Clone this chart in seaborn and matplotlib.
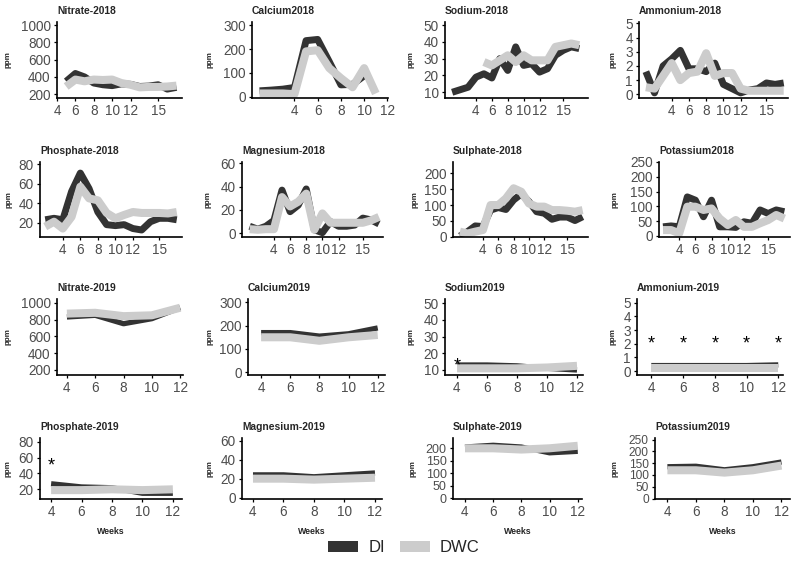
import numpy as np
import pandas as pd
import matplotlib
matplotlib.use("Agg")
import matplotlib.pyplot as plt
import seaborn as sns
from matplotlib.patches import Patch

nan = np.nan

# ---------------- data ----------------
weeks_2018 = list(range(1, 18))
weeks_2019 = [4, 6, 8, 10, 12]
groups = ["DI", "DWC"]

nitrate18_di  = [nan, nan, nan, nan, 350, 440, 400, 330, 310, 300, 320, 315, 290, 295, 310, 260, 280]
nitrate18_dwc = [nan, nan, nan, nan, 290, 370, 350, 370, 365, 370, 330, 310, 280, 285, 285, 290, 300]

calcium18_di  = [25, 28, 32, 39, 235, 240, 147, 50, 52, 88, nan, nan, nan, nan, nan, nan, nan]
calcium18_dwc = [14, 14, 14, 11, 190, 195, 120, 78, 40, 120, 14, nan, nan, nan, nan, nan, nan]

sodium18_di   = [10, 11.5, 13, 19, 21, 18.5, 30, 23, 37, 26, 27, 22, 24, 32, 35, 37, 36]
sodium18_dwc  = [nan, nan, nan, nan, 28, 26, 29, 32, 28, 32, 29, 29, 29, 37, 38, 39, 38]

ammonium18_di  = [1.6, 0.1, 2.0, 2.5, 3.1, 1.8, 1.8, 1.6, 2.2, 0.7, 0.4, 0.1, 0.3, 0.4, 0.8, 0.7, 0.8]
ammonium18_dwc = [0.5, 0.4, 1.3, 2.2, 1.0, 1.5, 1.6, 2.9, 1.3, 1.5, 1.5, 0.4, 0.25, 0.25, 0.25, 0.25, 0.25]

phosphate18_di  = [nan, 23, 24.5, 23, 52, 71, 55, 31, 18, 17, 18, 14, 12.5, 21, 24.5, 24.5, 23]
phosphate18_dwc = [nan, 16, 21, 14, 26, 57, 45, 43, 30, 24.5, 28, 31, 30, 30, 30, 29.5, 31]

magnesium18_di  = [6, 3.5, 6, 11, 37, 18.5, 24, 38, 3, 0.5, 10, 6, 6, 7, 13, 11.5, 8]
magnesium18_dwc = [3.5, 3, 3.5, 3.5, 31, 23, 27, 34, 3, 17, 9, 9, 9, 9, 9, 11, 14]

sulphate18_di  = [2, 16, 34, 32, 84, 92, 86, 116, 135, 111, 79, 74, 55, 62, 62, 51, 63]
sulphate18_dwc = [16, 10, 16, 21, 100, 100, 121, 153, 142, 105, 95, 95, 84, 84, 82, 79, 84]

potassium18_di  = [nan, 31, 34, 31, 132, 121, 65, 121, 31, 31, 29, 48, 43, 88, 76, 88, 82]
potassium18_dwc = [nan, 20, 20, 9, 99, 99, 88, 93, 59, 37, 54, 31, 31, 43, 54, 71, 59]

nitrate19_di    = [830, 850, 750, 810, 940]
nitrate19_dwc   = [870, 880, 840, 850, 940]
calcium19_di    = [170, 170, 155, 165, 190]
calcium19_dwc   = [150, 150, 135, 150, 160]
sodium19_di     = [13, 13, 12.5, 11, 10]
sodium19_dwc    = [11, 11, 11, 11.5, 12.5]
ammonium19_di   = [0.4, 0.4, 0.4, 0.4, 0.45]
ammonium19_dwc  = [0.2, 0.2, 0.2, 0.2, 0.2]
phosphate19_di  = [27, 23, 22, 15, 15]
phosphate19_dwc = [19, 19, 20, 19, 20]
magnesium19_di  = [24, 24, 22, 24, 26]
magnesium19_dwc = [20, 20, 19, 20, 21]
sulphate19_di   = [205, 212, 205, 182, 188]
sulphate19_dwc  = [200, 200, 195, 200, 210]
potassium19_di  = [135, 137, 122, 135, 155]
potassium19_dwc = [120, 120, 110, 120, 140]

# significance stars (week, ppm)
stars_sodium19    = [(4, 15)]
stars_ammonium19  = [(4, 2.3), (6, 2.3), (8, 2.3), (10, 2.3), (12, 2.3)]
stars_phosphate19 = [(4, 55)]

titles = ["Nitrate-2018", "Calcium2018", "Sodium-2018", "Ammonium-2018",
          "Phosphate-2018", "Magnesium-2018", "Sulphate-2018", "Potassium2018",
          "Nitrate-2019", "Calcium2019", "Sodium2019", "Ammonium-2019",
          "Phosphate-2019", "Magnesium-2019", "Sulphate-2019", "Potassium2019"]

xticks_2018 = [4, 6, 8, 10, 12, 15]
xticks_cal18 = [4, 6, 8, 10, 12]
xticks_2019 = [4, 6, 8, 10, 12]

yt_nitrate = [200, 400, 600, 800, 1000]
yt_calcium = [0, 100, 200, 300]
yt_sodium = [10, 20, 30, 40, 50]
yt_ammonium = [0, 1, 2, 3, 4, 5]
yt_phosphate = [20, 40, 60, 80]
yt_magnesium = [0, 20, 40, 60]
yt_sulphate = [0, 50, 100, 150, 200]
yt_potassium = [0, 50, 100, 150, 200, 250]

# ---------------- layout ----------------
W, H = 793, 581
DI_COLOR = "#333333"
DWC_COLOR = "#cccccc"
TICK_COLOR = "#4d4d4d"

sns.set_theme(style="white")
plt.rcParams['font.family'] = ['Liberation Sans', 'DejaVu Sans']

fig = plt.figure(figsize=(W / 100, H / 100), dpi=100)

rows_y = [(22, 98), (162, 237), (299, 375), (438, 499)]
boxes = [
    (57, 182), (252, 388), (445, 588), (639, 788),
    (40, 182), (242, 383), (453, 588), (659, 790),
    (57, 183), (248, 385), (445, 583), (637, 783),
    (40, 182), (242, 382), (453, 582), (655, 790),
]
ylab_x = [5, 207, 408, 610, 6, 205, 412, 612, 5, 207, 408, 610, 5, 207, 410, 612]
ytick_size = [9.8] * 14 + [9.0, 8.6]

panels = [
    (weeks_2018, nitrate18_di, nitrate18_dwc, xticks_2018, (4.0, 17.6), yt_nitrate, (157, 1035), []),
    (weeks_2018, calcium18_di, calcium18_dwc, xticks_cal18, (0.35, 12.05), yt_calcium, (-5, 313), []),
    (weeks_2018, sodium18_di, sodium18_dwc, xticks_2018, (0.1, 18.1), yt_sodium, (6.6, 51.8), []),
    (weeks_2018, ammonium18_di, ammonium18_dwc, xticks_2018, (0.2, 17.5), yt_ammonium, (-0.26, 5.1), []),
    (weeks_2018, phosphate18_di, phosphate18_dwc, xticks_2018, (1.4, 17.6), yt_phosphate, (5.3, 82.4), []),
    (weeks_2018, magnesium18_di, magnesium18_dwc, xticks_2018, (0.05, 17.5), yt_magnesium, (-3.2, 61.1), []),
    (weeks_2018, sulphate18_di, sulphate18_dwc, xticks_2018, (0.1, 17.7), yt_sulphate, (-1, 236), []),
    (weeks_2018, potassium18_di, potassium18_dwc, xticks_2018, (1.5, 17.7), yt_potassium, (-3.4, 250), []),
    (weeks_2019, nitrate19_di, nitrate19_dwc, xticks_2019, (3.3, 12.2), yt_nitrate, (140, 1044), []),
    (weeks_2019, calcium19_di, calcium19_dwc, xticks_2019, (3.1, 12.5), yt_calcium, (-11.6, 314), []),
    (weeks_2019, sodium19_di, sodium19_dwc, xticks_2019, (3.2, 12.4), yt_sodium, (7, 52.6), stars_sodium19),
    (weeks_2019, ammonium19_di, ammonium19_dwc, xticks_2019, (3.1, 12.3), yt_ammonium, (-0.29, 5.27), stars_ammonium19),
    (weeks_2019, phosphate19_di, phosphate19_dwc, xticks_2019, (3.27, 12.6), yt_phosphate, (7.8, 84.7), stars_phosphate19),
    (weeks_2019, magnesium19_di, magnesium19_dwc, xticks_2019, (3.28, 12.46), yt_magnesium, (-1.4, 62.8), []),
    (weeks_2019, sulphate19_di, sulphate19_dwc, xticks_2019, (3.15, 12.3), yt_sulphate, (-2, 241), []),
    (weeks_2019, potassium19_di, potassium19_dwc, xticks_2019, (3.13, 12.6), yt_potassium, (-2, 257), []),
]

for i, (weeks, di, dwc, xt, xl, yt, yl, stars) in enumerate(panels):
    r = i // 4
    top, bottom = rows_y[r]
    left, right = boxes[i]
    ax = fig.add_axes([left / W, 1 - bottom / H, (right - left) / W, (bottom - top) / H])

    df = pd.DataFrame({
        "week": list(weeks) * 2,
        "ppm": list(di) + list(dwc),
        "group": ["DI"] * len(weeks) + ["DWC"] * len(weeks),
    }).dropna()

    lw_di = 5.0 if r < 2 else 3.8
    sns.lineplot(data=df[df.group == "DI"], x="week", y="ppm", color=DI_COLOR,
                 lw=lw_di, ax=ax, legend=False, solid_joinstyle="round", solid_capstyle="butt")
    sns.lineplot(data=df[df.group == "DWC"], x="week", y="ppm", color=DWC_COLOR,
                 lw=5.8, ax=ax, legend=False, solid_joinstyle="round", solid_capstyle="butt")

    for (sx, sy) in stars:
        ax.annotate("*", (sx, sy), xytext=(0, -3), textcoords="offset points",
                    ha="center", va="center", fontsize=13, color="black")

    ax.set_xlim(*xl)
    ax.set_ylim(*yl)
    ax.set_xticks(xt)
    ax.set_yticks(yt)
    ax.set_xlabel("")
    ax.set_ylabel("")
    ax.tick_params(axis="both", which="both", length=2.5, width=0.9, color="black",
                   labelsize=9.8, labelcolor=TICK_COLOR, pad=2, bottom=True, left=True)
    ax.tick_params(axis="y", labelsize=ytick_size[i])
    for s in ["top", "right"]:
        ax.spines[s].set_visible(False)
    for s in ["left", "bottom"]:
        ax.spines[s].set_color("black")
        ax.spines[s].set_linewidth(1.2)
    ax.set_facecolor("none")
    ax.set_title(titles[i], loc="left", fontsize=7.4, fontweight="bold", pad=6)

    fig.text(ylab_x[i] / W, 1 - ((top + bottom) / 2) / H, "ppm", rotation=90,
             ha="left", va="center", fontsize=5.8, fontweight="bold")
    if r == 3:
        fig.text(((left + right) / 2) / W, 1 - 531 / H, "Weeks", ha="center", va="center",
                 fontsize=6.3, fontweight="bold")

handles = [Patch(facecolor=DI_COLOR, edgecolor="none", label="DI"),
           Patch(facecolor=DWC_COLOR, edgecolor="none", label="DWC")]
fig.legend(handles=handles, loc="center", bbox_to_anchor=(404 / W, 1 - 548 / H), ncol=2,
           frameon=False, fontsize=12, handlelength=1.8, handleheight=0.6,
           columnspacing=0.9, handletextpad=0.6)

fig.savefig("out.png", dpi=100)
